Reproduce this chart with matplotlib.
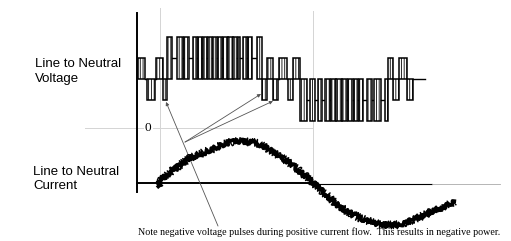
import matplotlib
matplotlib.use("Agg")
import matplotlib.pyplot as plt
from matplotlib.patches import Rectangle

# ---------------- data (time in electrical degrees, current zero-crossing = 0) ----------------
# PWM voltage bars: start, end, upper level, lower level (levels in units of Vdc/3)
bar_start = [-26, -15, -5, 4, 8, 20, 28, 39, 45, 51, 57, 63, 69, 75, 81, 87, 92, 98, 104, 115,
             121, 127, 134, 141, 152, 158,
             166, 178, 187, 195, 202, 209, 216, 223, 230, 236, 245, 254, 266,
             270, 276, 283, 293]
bar_end = [-18, -6, 3, 8, 14, 27, 34, 44, 50, 56, 62, 68, 74, 80, 86, 91, 95, 103, 109, 121,
           127, 134, 140, 150, 157, 166,
           174, 184, 192, 201, 208, 215, 222, 229, 235, 240, 251, 262, 270,
           276, 283, 292, 300]
bar_high = [1, 0, 1, 0, 2, 2, 2, 2, 2, 2, 2, 2, 2, 2, 2, 2, 2, 2, 2, 2,
            0, 1, 0, 1, 0, 1,
            0, 0, 0, 0, 0, 0, 0, 0, 0, 0, 0, 0, 0,
            1, 0, 1, 0]
bar_low = [0, -1, 0, -1, 0, 0, 0, 0, 0, 0, 0, 0, 0, 0, 0, 0, 0, 0, 0, 0,
           -1, 0, -1, 0, -1, 0,
           -2, -2, -2, -2, -2, -2, -2, -2, -2, -2, -2, -2, -2,
           0, -1, 0, -1]
voltage_end = 314

# Line-to-neutral current (normalised to peak)
current_deg = [-2, 0, 12, 36, 59, 83, 95, 115, 130, 154, 178, 193, 213, 237, 261, 284, 308, 332, 349]
current_val = [-0.08, 0.05, 0.25, 0.57, 0.75, 0.93, 0.95, 0.91, 0.75, 0.45, 0.07, -0.2, -0.55,
               -0.8, -0.95, -0.95, -0.77, -0.57, -0.43]

label_voltage = "Line to Neutral\nVoltage"
label_current = "Line to Neutral\nCurrent"
note = "Note negative voltage pulses during positive current flow.  This results in negative power."

# ---------------- layout ----------------
V_OFF = 4.952      # vertical position of voltage zero level
I_SCALE = 2.095    # current amplitude on the shared axis

plt.rcParams["hatch.linewidth"] = 0.6
plt.rcParams["hatch.color"] = "#222222"
fig = plt.figure(figsize=(5.11, 2.41), dpi=100)
ax = fig.add_axes([0, 0, 1, 1])
ax.set_xlim(-189.5, 415.7)
ax.set_ylim(-2.762, 8.714)
ax.axis("off")

gray = "#d4d4d4"
# faint reference lines
ax.plot([0, 0], [0, 8.33], color=gray, lw=0.7)
ax.plot([181, 181], [0, 8.2], color=gray, lw=0.7)
ax.plot([-88.8, -20], [2.62, 2.62], color=gray, lw=0.7)
ax.plot([-8, 181], [2.62, 2.62], color=gray, lw=0.7)
ax.text(-14.2, 2.62, "0", family="Liberation Serif", fontsize=9.5, ha="center", va="center")

# axes lines
ax.plot([-27.2, -27.2], [-0.43, 8.1], color="black", lw=1.4)
ax.plot([-27.2, 183.5], [0, 0], color="black", lw=1.4)
ax.plot([183.5, 322], [-0.05, -0.05], color="black", lw=0.8)
ax.plot([322, 402.6], [-0.05, -0.05], color="#aaaaaa", lw=0.6)

# voltage PWM bars
n = len(bar_start)
for i in range(n):
    ax.add_patch(Rectangle((bar_start[i], V_OFF + bar_low[i]), bar_end[i] - bar_start[i],
                           bar_high[i] - bar_low[i], facecolor="white", edgecolor="black",
                           lw=1.1, hatch="||||||", zorder=3))
    if i < n - 1:
        if (bar_high[i], bar_low[i]) == (bar_high[i + 1], bar_low[i + 1]):
            lvl = (bar_high[i] + bar_low[i]) / 2
        else:
            lvl = max(bar_low[i], bar_low[i + 1])
        ax.plot([bar_end[i], bar_start[i + 1]], [V_OFF + lvl, V_OFF + lvl], color="black", lw=1.0, zorder=3)
ax.plot([bar_end[-1], voltage_end], [V_OFF, V_OFF], color="black", lw=1.0, zorder=3)

# current with PWM ripple look
ys = [v * I_SCALE for v in current_val]
line, = ax.plot(current_deg, ys, color="black", lw=2.6, zorder=4)
line.set_sketch_params(scale=2.0, length=2.5, randomness=8)
line2, = ax.plot(current_deg, ys, color="black", lw=1.0, zorder=4)
line2.set_sketch_params(scale=4.0, length=1.5, randomness=6)

# pointer lines
arrow_kw = dict(arrowstyle="-|>", mutation_scale=5, lw=0.6, color="#555555", shrinkA=0, shrinkB=0)
ax.annotate("", xy=(7.1, 3.86), xytext=(68.7, -2.05), arrowprops=arrow_kw)
ax.annotate("", xy=(119.6, 4.24), xytext=(29.6, 1.95), arrowprops=arrow_kw)
ax.annotate("", xy=(133.8, 3.90), xytext=(29.6, 1.95), arrowprops=arrow_kw)

# labels
ax.text(-148, 5.31, label_voltage, family="Liberation Sans", fontsize=9.5, ha="left", va="center",
        linespacing=1.25)
ax.text(-150.4, 0.19, label_current, family="Liberation Sans", fontsize=9.5, ha="left", va="center",
        linespacing=1.25)
ax.text(-26, -2.33, note, family="Liberation Serif", fontsize=7.2, ha="left", va="center")

fig.savefig("out.png", dpi=100)
